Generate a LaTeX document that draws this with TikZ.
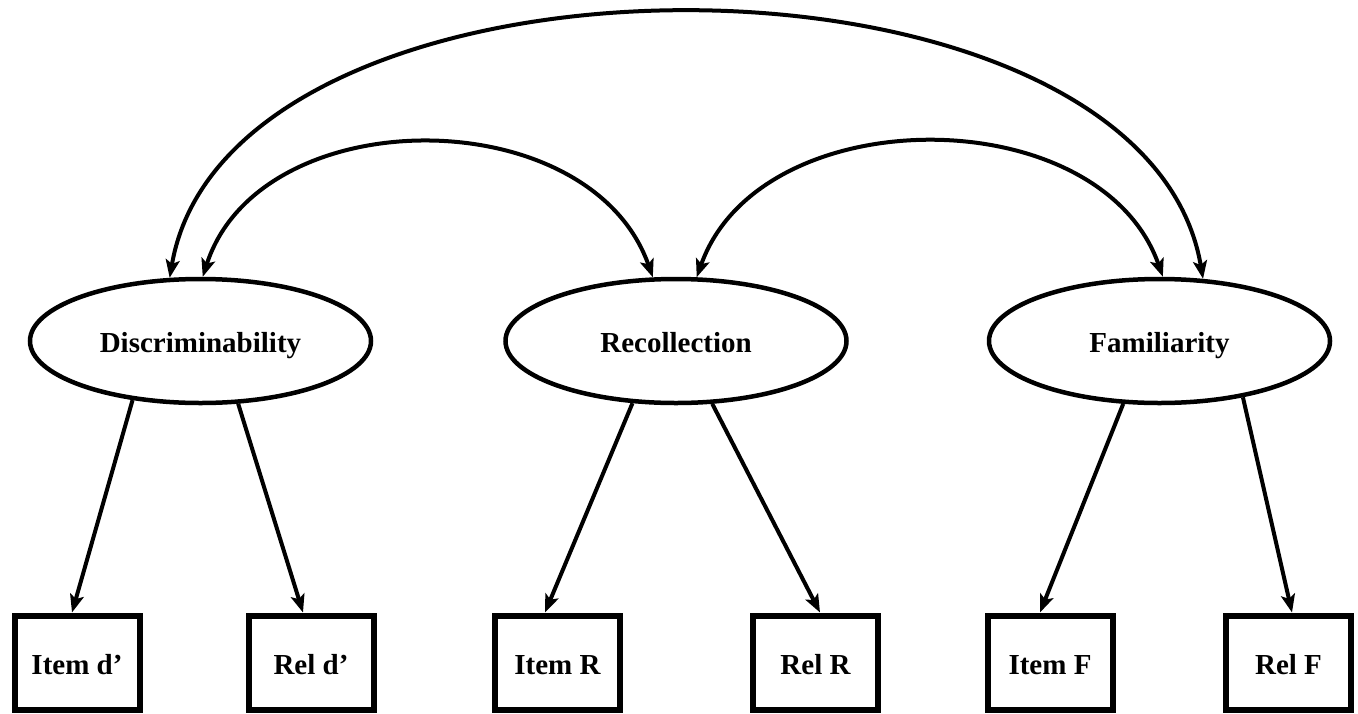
\documentclass[tikz,border=0pt]{standalone}
\usepackage{fontspec}
\setmainfont{Liberation Serif}
\usetikzlibrary{arrows.meta,shapes.geometric}
\begin{document}
\begin{tikzpicture}[x=1pt,y=-1pt,
  latent/.style={ellipse,draw,line width=4.5pt,minimum width=341pt,minimum height=124pt,inner sep=0pt,
    text height=24pt,text depth=1pt,
    font=\fontsize{29}{34}\selectfont\bfseries},
  indicator/.style={rectangle,draw,line width=6pt,minimum width=125pt,minimum height=94pt,inner sep=0pt,
    text height=24pt,text depth=0pt,
    font=\fontsize{29}{34}\selectfont\bfseries},
  load/.style={line width=4pt,-{Stealth[length=18pt,width=14pt,inset=4pt]}},
  cov/.style={line width=4pt,{Stealth[length=18pt,width=14pt,inset=4pt]}-{Stealth[length=18pt,width=14pt,inset=4pt]}}
]
\useasboundingbox (0,0) rectangle (1358,713);

\node[latent] (disc) at (200.5,341) {Discriminability};
\node[latent] (rec) at (676,341) {Recollection};
\node[latent] (fam) at (1159.5,341) {Familiarity};

\node[indicator] (itemd) at (77,662.5) {Item d’};
\node[indicator] (reld) at (311,662.5) {Rel d’};
\node[indicator] (itemr) at (557.5,662.5) {Item R};
\node[indicator] (relr) at (815.5,662.5) {Rel R};
\node[indicator] (itemf) at (1050,662.5) {Item F};
\node[indicator] (relf) at (1288.5,662.5) {Rel F};

\draw[load] (disc.221) -- ([xshift=-5pt]itemd.north);
\draw[load] (disc.301) -- ([xshift=-8pt]reld.north);
\draw[load] (rec.235) -- ([xshift=-12.5pt]itemr.north);
\draw[load] (rec.300) -- ([xshift=4.5pt]relr.north);
\draw[load] (fam.240) -- ([xshift=-10pt]itemf.north);
\draw[load] (fam.326) -- ([xshift=3.5pt]relf.north);

\draw[cov] (disc.116) .. controls (230,-75) and (1143,-75) .. (fam.55);
\draw[cov] (disc.88) .. controls (260,99) and (590,99) .. (rec.110);
\draw[cov] (rec.72) .. controls (760,98) and (1100,98) .. (fam.87);
\end{tikzpicture}
\end{document}
